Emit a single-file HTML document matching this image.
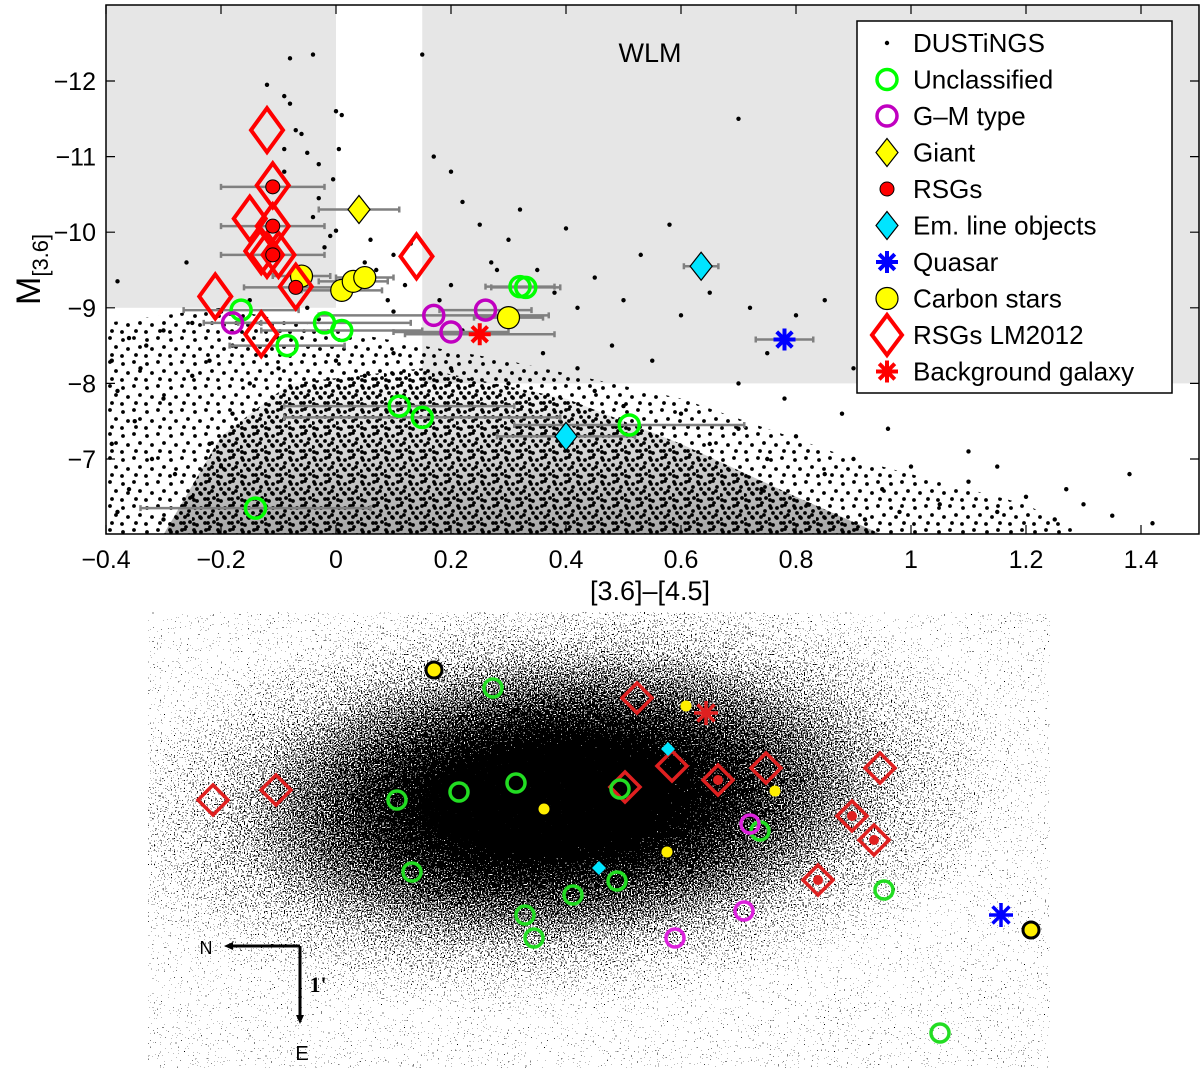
<!DOCTYPE html>
<html><head><meta charset="utf-8"><style>
html,body{margin:0;padding:0;background:#fff}
svg{display:block;font-family:"Liberation Sans",sans-serif}
</style></head><body>
<svg id="s" width="1200" height="1070" viewBox="0 0 1200 1070" xmlns="http://www.w3.org/2000/svg">
<defs>
<pattern id="pm" width="24" height="24" patternUnits="userSpaceOnUse">
<circle cx="3" cy="4" r="1.9"/><circle cx="14" cy="2" r="1.9"/><circle cx="20" cy="11" r="1.9"/><circle cx="8" cy="13" r="1.9"/><circle cx="2" cy="20" r="1.9"/><circle cx="16" cy="19" r="1.9"/></pattern>
<pattern id="pd" width="24" height="24" patternUnits="userSpaceOnUse">
<circle cx="2" cy="2" r="1.9"/><circle cx="9" cy="4" r="1.9"/><circle cx="17" cy="1" r="1.9"/><circle cx="21" cy="7" r="1.9"/><circle cx="5" cy="9" r="1.9"/><circle cx="13" cy="9" r="1.9"/><circle cx="1" cy="15" r="1.9"/><circle cx="9" cy="14" r="1.9"/><circle cx="17" cy="13" r="1.9"/><circle cx="22" cy="18" r="1.9"/><circle cx="5" cy="21" r="1.9"/><circle cx="13" cy="19" r="1.9"/><circle cx="18" cy="23" r="1.9"/></pattern>
<linearGradient id="dg" x1="0" y1="0" x2="0" y2="1"><stop offset="0" stop-color="#000" stop-opacity="0"/><stop offset="1" stop-color="#000" stop-opacity="0.35"/></linearGradient>
<clipPath id="pc"><rect x="106" y="5" width="1093" height="529"/></clipPath>
<radialGradient id="gg" gradientUnits="userSpaceOnUse" cx="560" cy="800" r="470" gradientTransform="translate(560 800) rotate(-4) scale(1 0.45) translate(-560 -800)">
<stop offset="0" stop-opacity="1"/><stop offset="0.22" stop-opacity="1"/><stop offset="0.45" stop-opacity="0.8"/><stop offset="0.75" stop-opacity="0.6"/><stop offset="1" stop-opacity="0.5"/></radialGradient>
<filter id="spk" x="0" y="0" width="100%" height="100%">
<feTurbulence type="fractalNoise" baseFrequency="0.7" numOctaves="1" seed="4" result="n"/>
<feColorMatrix in="n" type="matrix" values="0 0 0 0 0 0 0 0 0 0 0 0 0 0 0 1 0 0 0 0" result="na"/>
<feComposite in="SourceGraphic" in2="na" operator="arithmetic" k1="0" k2="1" k3="1" k4="-0.72" result="c"/>
<feComponentTransfer in="c"><feFuncA type="discrete" tableValues="0 0 1 1"/></feComponentTransfer>
</filter>
</defs>
<g id="topg"></g>
<g id="botg"></g>
</svg>
<script>
const NS="http://www.w3.org/2000/svg";
const xTicks=[-0.4,-0.2,0,0.2,0.4,0.6,0.8,1,1.2,1.4];
const xTickLabels=["\u22120.4","\u22120.2","0","0.2","0.4","0.6","0.8","1","1.2","1.4"];
const yTicks=[-12,-11,-10,-9,-8,-7];
const yTickLabels=["\u221212","\u221211","\u221210","\u22129","\u22128","\u22127"];
const dustDots=[[-0.38,-9.35],[-0.26,-9.6],[-0.08,-12.3],[-0.04,-12.35],[-0.12,-11.95],[-0.09,-11.8],[-0.08,-11.7],[-0.07,-11.35],[-0.06,-11.3],[-0.09,-11.1],[-0.05,-11.05],[-0.03,-10.9],[-0.09,-10.8],[0.0,-11.6],[0.01,-11.55],[0.005,-11.1],[-0.005,-10.7],[-0.03,-10.45],[-0.04,-10.2],[-0.01,-9.95],[0.0,-10.02],[-0.02,-9.8],[0.06,-9.9],[0.07,-9.5],[0.05,-9.6],[0.09,-9.1],[0.1,-9.7],[0.13,-9.85],[0.18,-9.1],[0.17,-11.0],[0.15,-12.35],[0.2,-10.8],[0.22,-10.4],[0.25,-10.1],[0.27,-9.6],[0.3,-9.9],[0.32,-10.3],[0.35,-9.5],[0.38,-9.2],[0.4,-10.05],[0.42,-9.0],[0.45,-9.4],[0.5,-9.1],[0.53,-9.7],[0.58,-10.1],[0.6,-8.9],[0.65,-9.2],[0.7,-11.5],[0.72,-9.0],[0.75,-8.4],[0.8,-8.9],[0.85,-9.1],[0.9,-8.2],[1.05,-8.6],[0.48,-8.5],[0.55,-8.3],[0.36,-8.4],[0.42,-8.2],[0.28,-9.5],[0.2,-9.3],[0.12,-9.3],[0.1,-8.95],[0.22,-8.7],[-0.05,-9.0],[-0.03,-8.85],[-0.15,-9.1],[-0.2,-8.95],[-0.25,-8.8],[-0.3,-8.7],[-0.33,-8.5],[-0.36,-8.6],[-0.39,-8.3],[-0.34,-8.2],[-0.38,-7.9],[-0.3,-7.8],[-0.25,-8.1],[-0.22,-8.3],[-0.18,-8.5],[-0.35,-7.5],[-0.39,-7.2],[-0.32,-7.0],[-0.28,-6.8],[-0.36,-6.6],[-0.38,-6.3],[-0.3,-6.2],[-0.25,-6.5],[-0.22,-7.2],[-0.2,-6.9],[-0.18,-7.6],[-0.15,-8.0],[-0.1,-8.2],[0.0,-8.3],[0.05,-8.1],[0.1,-8.4],[0.2,-8.2],[0.3,-8.0],[0.45,-7.9],[0.5,-7.7],[0.6,-7.6],[0.65,-7.2],[0.7,-7.4],[0.75,-7.0],[0.8,-7.3],[0.85,-6.8],[0.9,-7.0],[0.95,-6.6],[1.0,-6.9],[1.05,-6.4],[1.1,-6.7],[1.15,-6.3],[1.2,-6.5],[1.25,-6.2],[1.3,-6.4],[1.35,-6.25],[1.42,-6.15],[1.27,-6.6],[1.38,-6.8],[0.96,-7.4],[1.1,-7.1],[0.88,-7.6],[0.78,-7.8],[0.7,-8.0],[1.15,-6.9],[0.98,-6.3],[0.92,-6.2],[0.82,-6.4],[0.74,-6.6]];
const unclassified=[[-0.165,-8.97,0.1],[-0.085,-8.5,0.1],[-0.02,-8.8,0.15],[0.01,-8.7,0.14],[0.11,-7.7,0.2],[0.15,-7.55,0.24],[0.32,-9.28,0.06],[0.33,-9.27,0.06],[0.51,-7.45,0.2],[-0.14,-6.35,0.2]];
const gmType=[[-0.18,-8.8,0.05],[0.17,-8.9,0.2],[0.2,-8.68,0.1],[0.26,-8.97,0.08]];
const giant=[[0.04,-10.3,0.07]];
const rsgs=[[-0.11,-10.6,0.09],[-0.11,-10.08,0.09],[-0.11,-9.7,0.09],[-0.07,-9.27,0.09]];
const emLine=[[0.635,-9.55,0.03],[0.4,-7.3,0.12]];
const quasar=[[0.78,-8.58,0.05]];
const carbon=[[-0.06,-9.42,0.05],[0.01,-9.23,0.07],[0.03,-9.35,0.06],[0.05,-9.4,0.05],[0.3,-8.87,0.06]];
const rsgLM=[[-0.12,-11.35],[-0.11,-10.62],[-0.15,-10.18],[-0.11,-10.08],[-0.13,-9.75],[-0.12,-9.7],[-0.1,-9.7],[-0.07,-9.28],[-0.21,-9.15],[-0.13,-8.65],[0.14,-9.68]];
const bgGalaxy=[[0.25,-8.65,0.13]];
const medRegion=[[-0.4,-6],[-0.4,-8.8],[-0.2,-9.0],[0.0,-8.7],[0.3,-8.3],[0.6,-7.8],[0.9,-7.0],[1.2,-6.4],[1.3,-6]];
const denseRegion=[[-0.3,-6],[-0.2,-7.3],[-0.08,-8.0],[0.15,-8.2],[0.4,-7.8],[0.6,-7.2],[0.8,-6.5],[0.95,-6]];
const imgUnclassified=[[493,688],[397,800],[459,792],[516,783],[620,789],[412,872],[573,895],[617,881],[525,915],[534,938],[760,831],[884,890],[940,1033]];
const imgGM=[[750,824],[744,911],[675,938]];
const imgRSGLM=[[213,800],[276,790],[637,698],[625,787],[672,766],[718,780],[766,768],[880,768],[852,816],[874,840],[818,880]];
const imgRSG=[[718,780],[852,816],[874,840],[818,880]];
const imgCarbonSmall=[[544,809],[686,706],[775,791],[667,852]];
const imgCarbonBig=[[434,670],[1031,930]];
const imgEm=[[668,749],[599,868]];

const X=v=>336+575*v, Y=v=>81+(v+12)*75.6;
function mk(tag,attrs,parent){const e=document.createElementNS(NS,tag);for(const k in attrs)e.setAttribute(k,attrs[k]);parent.appendChild(e);return e;}
const topG=document.getElementById('topg'), botG=document.getElementById('botg');
let g=mk('rect',{x:X(-0.4),y:Y(-13),width:X(0)-X(-0.4),height:Y(-9)-Y(-13),fill:'#e6e6e6'},topG);


g=mk('rect',{x:X(0.15),y:Y(-13),width:X(1.5)-X(0.15),height:Y(-8)-Y(-13),fill:'#e6e6e6'},topG);


const cl=mk('g',{'clip-path':'url(#pc)'},topG);
const pts=a=>a.map(p=>X(p[0])+','+Y(p[1])).join(' ');
g=mk('polygon',{points:pts(medRegion),fill:'url(#pm)'},cl);


g=mk('polygon',{points:pts(denseRegion),fill:'url(#pd)'},cl);


g=mk('polygon',{points:pts(denseRegion),fill:'url(#dg)'},cl);


dustDots.forEach(p=>{const c=mk('circle',{cx:X(p[0]),cy:Y(p[1]),r:2.2,fill:'#000'},cl);

});
function err(arr){arr.forEach(p=>{if(p[2]===undefined)return;const y=Y(p[1]);
const l=mk('path',{d:`M${X(p[0]-p[2])},${y}H${X(p[0]+p[2])}M${X(p[0]-p[2])},${y-3}v6M${X(p[0]+p[2])},${y-3}v6`,stroke:'#808080','stroke-width':2.5,fill:'none'},cl);

});}
[unclassified,gmType,giant,rsgs,emLine,quasar,carbon,bgGalaxy].forEach(err);
function circ(parent,x,y,r,fill,stroke,sw,name){const c=mk('circle',{cx:x,cy:y,r:r,fill:fill,stroke:stroke,'stroke-width':sw},parent);

return c;}
function diam(parent,x,y,w,h,fill,stroke,sw,name){const d=mk('path',{d:`M${x},${y-h}L${x+w},${y}L${x},${y+h}L${x-w},${y}Z`,fill:fill,stroke:stroke,'stroke-width':sw},parent);

return d;}
function star(parent,x,y,r,col,sw,name){let d='';for(let i=0;i<4;i++){const a=i*Math.PI/4;d+=`M${x-r*Math.cos(a)},${y-r*Math.sin(a)}L${x+r*Math.cos(a)},${y+r*Math.sin(a)}`;}
const s=mk('path',{d:d,stroke:col,'stroke-width':sw,fill:'none'},parent);

return s;}
carbon.forEach(p=>circ(cl,X(p[0]),Y(p[1]),11,'#ffff00','#000',1.2,'carbon-star'));
rsgLM.forEach(p=>diam(cl,X(p[0]),Y(p[1]),16,22,'none','#ff0000',4,'rsg-lm2012'));
rsgs.forEach(p=>circ(cl,X(p[0]),Y(p[1]),7,'#ff0000','#000',1,'rsg'));
giant.forEach(p=>diam(cl,X(p[0]),Y(p[1]),11,14,'#ffff00','#000',1.2,'giant'));
emLine.forEach(p=>diam(cl,X(p[0]),Y(p[1]),11,14,'#00e5ff','#000',1.2,'em-line-object'));
unclassified.forEach(p=>circ(cl,X(p[0]),Y(p[1]),10,'none','#00ff00',3.5,'unclassified'));
gmType.forEach(p=>circ(cl,X(p[0]),Y(p[1]),10,'none','#c000c0',3.5,'gm-type'));
quasar.forEach(p=>star(cl,X(p[0]),Y(p[1]),11,'#0000ff',4,'quasar'));
bgGalaxy.forEach(p=>star(cl,X(p[0]),Y(p[1]),11,'#ff0000',4,'background-galaxy'));
g=mk('rect',{x:106,y:5,width:1093,height:529,fill:'none',stroke:'#000','stroke-width':1.5},topG);


xTicks.forEach((t,i)=>{const x=X(t);mk('path',{d:`M${x},534v-9M${x},5v9`,stroke:'#000','stroke-width':1.2},topG);
const tx=mk('text',{x:x,y:568,'font-size':25,'text-anchor':'middle'},topG);tx.textContent=xTickLabels[i];

});
yTicks.forEach((t,i)=>{const y=Y(t);mk('path',{d:`M106,${y}h9M1199,${y}h-9`,stroke:'#000','stroke-width':1.2},topG);
const tx=mk('text',{x:96,y:y+9,'font-size':25,'text-anchor':'end'},topG);tx.textContent=yTickLabels[i];

});
let t=mk('text',{x:650,y:600,'font-size':27,'text-anchor':'middle'},topG);t.textContent='[3.6]\u2013[4.5]';


t=mk('text',{transform:'translate(40,305) rotate(-90)','font-size':34},topG);
const ts1=mk('tspan',{},t);ts1.textContent='M';
const ts2=mk('tspan',{'font-size':22,dy:8},t);ts2.textContent='[3.6]';


t=mk('text',{x:650,y:62,'font-size':27,'text-anchor':'middle'},topG);t.textContent='WLM';


const lg=mk('g',{},topG);


mk('rect',{x:857,y:21,width:315,height:372,fill:'#fff',stroke:'#000','stroke-width':1.5},lg);
const legendLabels=['DUSTiNGS','Unclassified','G\u2013M type','Giant','RSGs','Em. line objects','Quasar','Carbon stars','RSGs LM2012','Background galaxy'];
legendLabels.forEach((lab,i)=>{const y=43+i*36.5,x=887;
if(i==0)circ(lg,x,y,2.2,'#000','none',0,'legend-marker');
if(i==1)circ(lg,x,y,10,'none','#00ff00',3.5,'legend-marker');
if(i==2)circ(lg,x,y,10,'none','#c000c0',3.5,'legend-marker');
if(i==3)diam(lg,x,y,11,14,'#ffff00','#000',1.2,'legend-marker');
if(i==4)circ(lg,x,y,7,'#ff0000','#000',1,'legend-marker');
if(i==5)diam(lg,x,y,11,14,'#00e5ff','#000',1.2,'legend-marker');
if(i==6)star(lg,x,y,11,'#0000ff',4,'legend-marker');
if(i==7)circ(lg,x,y,11,'#ffff00','#000',1.2,'legend-marker');
if(i==8)diam(lg,x,y,15,20,'none','#ff0000',4,'legend-marker');
if(i==9)star(lg,x,y,11,'#ff0000',4,'legend-marker');
const tx=mk('text',{x:913,y:y+9,'font-size':26},lg);tx.textContent=lab;

});
g=mk('rect',{x:148,y:612,width:902,height:456,fill:'#fff'},botG);


g=mk('rect',{x:148,y:612,width:902,height:456,fill:'url(#gg)',filter:'url(#spk)'},botG);


g=mk('ellipse',{cx:540,cy:800,rx:120,ry:50,fill:'#000',transform:'rotate(-4 540 800)',opacity:0.85},botG);


imgRSGLM.forEach(p=>diam(botG,p[0],p[1],15,15,'none','#e02020',3.5,'image-rsg-lm2012'));
imgRSG.forEach(p=>circ(botG,p[0],p[1],5,'#e02020','none',0,'image-rsg'));
imgUnclassified.forEach(p=>circ(botG,p[0],p[1],9,'none','#22dd22',3.5,'image-unclassified'));
imgGM.forEach(p=>circ(botG,p[0],p[1],9,'none','#dd22dd',3.5,'image-gm-type'));
imgCarbonSmall.forEach(p=>circ(botG,p[0],p[1],5.5,'#ffee00','none',0,'image-carbon-star'));
imgCarbonBig.forEach(p=>circ(botG,p[0],p[1],8,'#ffee00','#000',3,'image-carbon-star'));
imgEm.forEach(p=>diam(botG,p[0],p[1],7,7,'#00e5ff','none',0,'image-em-line'));
star(botG,706,713,12,'#e02020',3.5,'image-background-galaxy');
star(botG,1001,915,12,'#0000ff',3.5,'image-quasar');
g=mk('path',{d:'M300,946H230M300,946V1018',stroke:'#000','stroke-width':3,fill:'none'},botG);


mk('path',{d:'M224,946l9,-4v8zM300,1024l-4,-9h8z',fill:'#000'},botG);
[['N',206,954,18],['E',302,1060,20],["1'",318,992,22]].forEach(a=>{const tx=mk('text',{x:a[1],y:a[2],'font-size':a[3],'text-anchor':'middle',fill:'#000','font-weight':a[0]=="1'"?'bold':'normal','font-family':a[0]=="1'"?'Liberation Serif':'Liberation Sans'},botG);tx.textContent=a[0];

});
</script>
</body></html>
